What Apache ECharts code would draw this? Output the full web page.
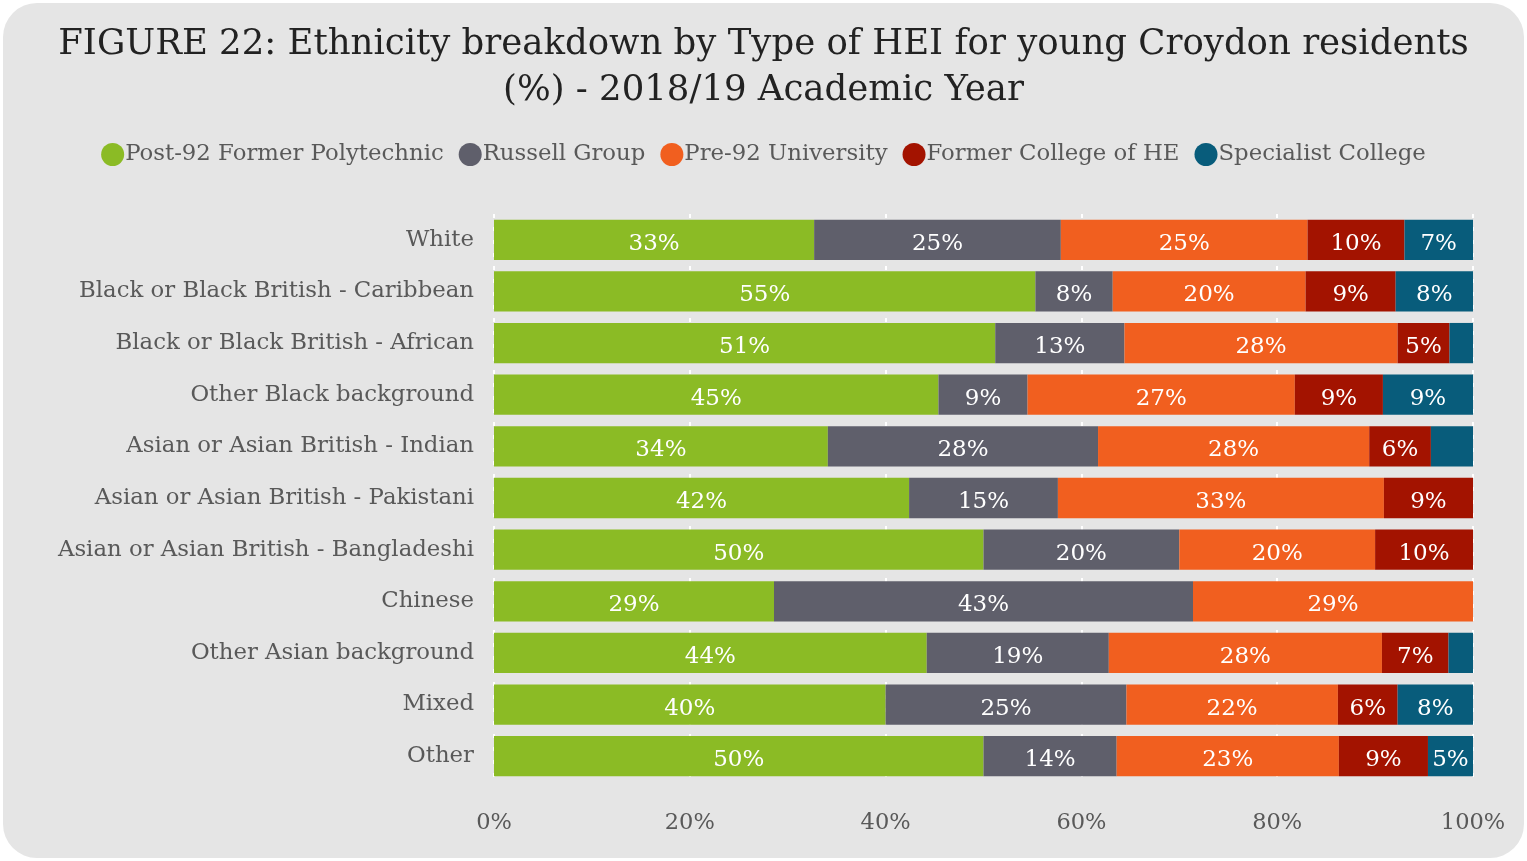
<!DOCTYPE html>
<html><head><meta charset="utf-8">
<script src="https://cdn.jsdelivr.net/npm/echarts@6/dist/echarts.min.js"></script>
<style>
html,body{margin:0;padding:0;background:#fff;width:1527px;height:861px;overflow:hidden}
#wrap{position:absolute;left:3px;top:3px;width:1521px;height:855px;background:#e5e5e5;border-radius:34px}
#c{position:absolute;left:0;top:0;width:1527px;height:861px}
</style></head>
<body><div id="wrap"></div><div id="c"></div>
<script>
const categories = ["White","Black or Black British - Caribbean","Black or Black British - African","Other Black background","Asian or Asian British - Indian","Asian or Asian British - Pakistani","Asian or Asian British - Bangladeshi","Chinese","Other Asian background","Mixed","Other"];
const seriesNames = ["Post-92 Former Polytechnic","Russell Group","Pre-92 University","Former College of HE","Specialist College"];
const post92     = [32.7,55.3,51.2,45.4,34.1,42.4,50.0,28.6,44.2,40.0,50.0];
const russell    = [25.2, 7.9,13.2, 9.1,27.6,15.2,20.0,42.8,18.6,24.6,13.6];
const pre92      = [25.2,19.7,27.9,27.3,27.7,33.3,20.0,28.6,27.9,21.6,22.7];
const formerHE   = [ 9.9, 9.2, 5.3, 9.0, 6.3, 9.1,10.0, 0.0, 6.8, 6.1, 9.1];
const specialist = [ 7.0, 7.9, 2.4, 9.2, 4.3, 0.0, 0.0, 0.0, 2.5, 7.7, 4.6];
const xTicks = [0,20,40,60,80,100];
const colors = ["#8bbb25","#5f5f6b","#f15f1f","#a31300","#085c7b"];
const values = [post92,russell,pre92,formerHE,specialist];
const FONT = "DejaVu Serif";

const chart = echarts.init(document.getElementById('c'), null, {renderer:'canvas'});
chart.setOption({
  backgroundColor:'transparent',
  title:{text:"FIGURE 22: Ethnicity breakdown by Type of HEI for young Croydon residents\n(%) - 2018/19 Academic Year",
    left:'center', top:17,
    textStyle:{fontFamily:FONT,fontSize:35.5,fontWeight:'normal',color:'#222',lineHeight:46}},
  legend:{top:138,left:'center',itemWidth:23,itemHeight:23,itemGap:15,icon:'circle',
    textStyle:{fontFamily:FONT,fontSize:22.8,color:'#595959',padding:[0,0,0,-4]},
    data:seriesNames},
  grid:{left:494,right:54,top:214,bottom:79,containLabel:false},
  xAxis:{type:'value',min:0,max:100,interval:20,
    axisLabel:{formatter:v=>v+'%',fontFamily:FONT,fontSize:22.5,color:'#595959',margin:30},
    axisLine:{show:false},axisTick:{show:false},
    splitLine:{show:true,lineStyle:{color:'#ffffff',type:[4,9],width:2}}},
  yAxis:{type:'category',data:categories,inverse:true,
    axisLabel:{fontFamily:FONT,fontSize:22.8,color:'#595959',margin:20,lineHeight:28,padding:[6,0,0,0]},
    axisLine:{show:false},axisTick:{show:false}},
  series: seriesNames.map((n,i)=>({
    name:n,type:'bar',stack:'total',barCategoryGap:'22%',
    itemStyle:{color:colors[i]},
    data:values[i],
    label:{show:true,position:'inside',fontFamily:FONT,fontSize:23,color:'#ffffff',offset:[0,4],
      formatter:p=> p.value>=4.5 ? Math.round(p.value)+'%' : ''}
  }))
});
</script></body></html>
